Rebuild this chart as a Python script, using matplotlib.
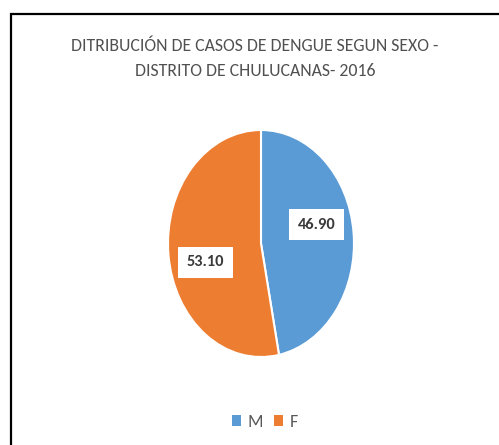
import matplotlib
matplotlib.use("Agg")
import matplotlib.pyplot as plt
from matplotlib.lines import Line2D
import numpy as np

categories = ["M", "F"]
values = [46.90, 53.10]
colors = ["#5B9BD5", "#ED7D31"]
title = "DITRIBUCIÓN DE CASOS DE DENGUE SEGUN SEXO -\nDISTRITO DE CHULUCANAS- 2016"

FONT = ["Carlito", "DejaVu Sans"]

W, H = 499, 445
fig = plt.figure(figsize=(W / 100, H / 100), dpi=100)
fig.patch.set_facecolor("white")

# outer chart frame (left and top edges visible)
x0, y0 = 10.5 / W, 1 - 13.5 / H
fig.add_artist(Line2D([x0, x0, 1.05], [-0.05, y0, y0], transform=fig.transFigure,
                      color="black", linewidth=1.6, solid_joinstyle="miter"))

fig.text(255 / W, 1 - 58.5 / H, title, ha="center", va="center",
         fontsize=12.8, color="#505050", family=FONT, linespacing=1.75)

ax = fig.add_axes([168 / W, (H - 357) / H, 186 / W, 227 / H])
wedges, texts, autotexts = ax.pie(
    values, colors=colors, startangle=90, counterclock=False,
    autopct="%.2f", pctdistance=0.62,
    wedgeprops=dict(edgecolor="white", linewidth=1.5),
    textprops=dict(fontsize=11.8, fontweight="bold", color="#3a3a3a",
                   family=FONT))
for w, t in zip(wedges, autotexts):
    mid = np.deg2rad((w.theta1 + w.theta2) / 2 + 10)
    t.set_position((0.62 * np.cos(mid), 0.62 * np.sin(mid)))
    t.set_bbox(dict(facecolor="white", edgecolor="none", pad=6))
ax.set_aspect("auto")
ax.set_xlim(-1.0, 1.0)
ax.set_ylim(-1.0, 1.0)

leg = fig.legend(wedges, categories, loc="center", bbox_to_anchor=(265 / W, 1 - 422 / H),
                 ncol=2, frameon=False, handlelength=0.5, handleheight=0.5,
                 handletextpad=0.35, columnspacing=0.6,
                 prop=dict(family=FONT, size=13))
for t in leg.get_texts():
    t.set_color("#595959")
for h in leg.legend_handles:
    h.set_edgecolor("none")

fig.savefig("out.png", dpi=100)
